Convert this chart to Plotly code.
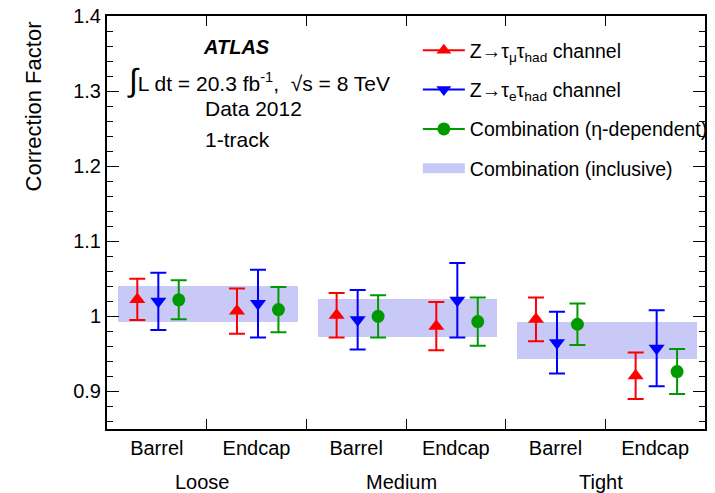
import plotly.graph_objects as go

# ---------------- data ----------------
bins = ["Barrel", "Endcap", "Barrel", "Endcap", "Barrel", "Endcap"]
groups = ["Loose", "Medium", "Tight"]

mu_val = [1.0225, 1.007, 1.0015, 0.987, 0.996, 0.921]
mu_err = [0.0275, 0.030, 0.0295, 0.032, 0.029, 0.031]

e_val = [1.020, 1.017, 0.9955, 1.0215, 0.965, 0.9575]
e_err = [0.038, 0.045, 0.0395, 0.0495, 0.041, 0.0505]

comb_val = [1.022, 1.009, 1.000, 0.993, 0.9895, 0.9265]
comb_err = [0.026, 0.030, 0.028, 0.032, 0.0275, 0.030]

incl_val = [1.017, 0.9975, 0.968]
incl_err = [0.024, 0.0255, 0.0245]

y_ticks = [0.9, 1.0, 1.1, 1.2, 1.3, 1.4]
y_ticktext = ["0.9", "1", "1.1", "1.2", "1.3", "1.4"]

# ---------------- styles ----------------
FONT = "Liberation Sans, Arial, Helvetica, sans-serif"
FS = 20
RED, BLUE, GREEN, BAND = "#ff0000", "#0000ff", "#009a00", "#c9c9f7"
OFF_MU, OFF_E, OFF_C = -0.196, 0.015, 0.22
centers = [i + 0.5 for i in range(len(bins))]
gcenters = [2 * i + 1 for i in range(len(groups))]

fig = go.Figure()

# inclusive combination band (drawn from data)
fig.add_trace(go.Bar(
    x=[c + 0.015 for c in gcenters],
    y=[2 * e for e in incl_err],
    base=[v - e for v, e in zip(incl_val, incl_err)],
    width=1.8, marker=dict(color=BAND, line=dict(width=0)),
    showlegend=False, hoverinfo="skip",
))

def series(vals, errs, off, color, symbol, size):
    fig.add_trace(go.Scatter(
        x=[c + off for c in centers], y=vals, mode="markers",
        marker=dict(color=color, symbol=symbol, size=size, line=dict(width=0)),
        error_y=dict(type="data", array=errs, color=color, thickness=2, width=8),
        showlegend=False, hoverinfo="skip",
    ))

series(mu_val, mu_err, OFF_MU, RED, "triangle-up", 14)
series(e_val, e_err, OFF_E, BLUE, "triangle-down", 14)
series(comb_val, comb_err, OFF_C, GREEN, "circle", 13)

# legend entries
def leg(name, grp, color, symbol=None, lw=2):
    if symbol:
        fig.add_trace(go.Scatter(x=[None], y=[None], mode="lines+markers", name=name,
                                 line=dict(color=color, width=lw),
                                 marker=dict(color=color, symbol=symbol, size=13),
                                 legendgroup=grp))
    else:
        fig.add_trace(go.Scatter(x=[None], y=[None], mode="lines", name=name,
                                 line=dict(color=color, width=lw), legendgroup=grp))

leg("Z\u2192\u03c4<sub>\u03bc</sub>\u03c4<sub>had</sub> channel", "a", RED, "triangle-up")
leg("Z\u2192\u03c4<sub>e</sub>\u03c4<sub>had</sub> channel", "b", BLUE, "triangle-down")
leg("Combination (\u03b7-dependent)", "c", GREEN, "circle")
leg("Combination (inclusive)", "d", BAND, None, lw=27)

W, H0, B = 606.0, 413.0, 429.0
def px(x): return (x - 107) / W
def py(y): return (B - y) / H0

# group labels
for gc, g in zip(gcenters, groups):
    fig.add_annotation(x=gc - 0.045, y=py(482.5), xref="x", yref="paper", text=g,
                       showarrow=False, font=dict(size=FS, family=FONT, color="black"),
                       xanchor="center", yanchor="middle")

# y title
fig.add_annotation(x=px(32.5), y=py(106), xref="paper", yref="paper", text="Correction Factor",
                   textangle=-90, showarrow=False,
                   font=dict(size=22, family=FONT, color="black"),
                   xanchor="center", yanchor="middle")

def txt(xp, yp, t, size=21):
    fig.add_annotation(x=xp, y=yp, xref="paper", yref="paper", text=t, showarrow=False,
                       xanchor="left", yanchor="middle",
                       font=dict(size=size, family=FONT, color="black"))

txt(px(202), py(47), "<b><i>ATLAS</i></b>", 20)
txt(px(125), py(80), "<span style='font-size:32px'>\u222b</span>L dt = 20.3 fb<sup>-1</sup>,  \u221as = 8 TeV")
txt(px(204), py(108), "Data 2012")
txt(px(204), py(139), "1-track")

fig.update_layout(
    width=715, height=493,
    margin=dict(l=107, r=2, t=16, b=64),
    paper_bgcolor="white", plot_bgcolor="white",
    font=dict(family=FONT, size=FS, color="black"),
    bargap=0,
    showlegend=True,
    legend=dict(x=px(422), y=py(31), xanchor="left", yanchor="top",
                bgcolor="rgba(0,0,0,0)", font=dict(size=19.5, family=FONT),
                tracegroupgap=11, itemwidth=42, traceorder="grouped"),
    xaxis=dict(range=[0, 6], tickvals=centers, ticktext=bins, ticks="",
               showgrid=False, zeroline=False, showline=True, linecolor="black",
               linewidth=2, mirror="ticks",
               minor=dict(tickvals=[1, 2, 3, 4, 5], ticks="inside", ticklen=10,
                          tickcolor="black", tickwidth=1, showgrid=False),
               tickfont=dict(size=FS, family=FONT, color="black")),
    yaxis=dict(range=[0.85, 1.4], tickvals=y_ticks, ticktext=y_ticktext,
               ticks="inside", ticklen=12, tickcolor="black", tickwidth=1,
               showgrid=False, zeroline=False, showline=True, linecolor="black",
               linewidth=2, mirror="ticks",
               minor=dict(dtick=0.02, ticks="inside", ticklen=6, tickcolor="black",
                          showgrid=False),
               tickfont=dict(size=FS, family=FONT, color="black")),
)

fig.write_html("out.html")
